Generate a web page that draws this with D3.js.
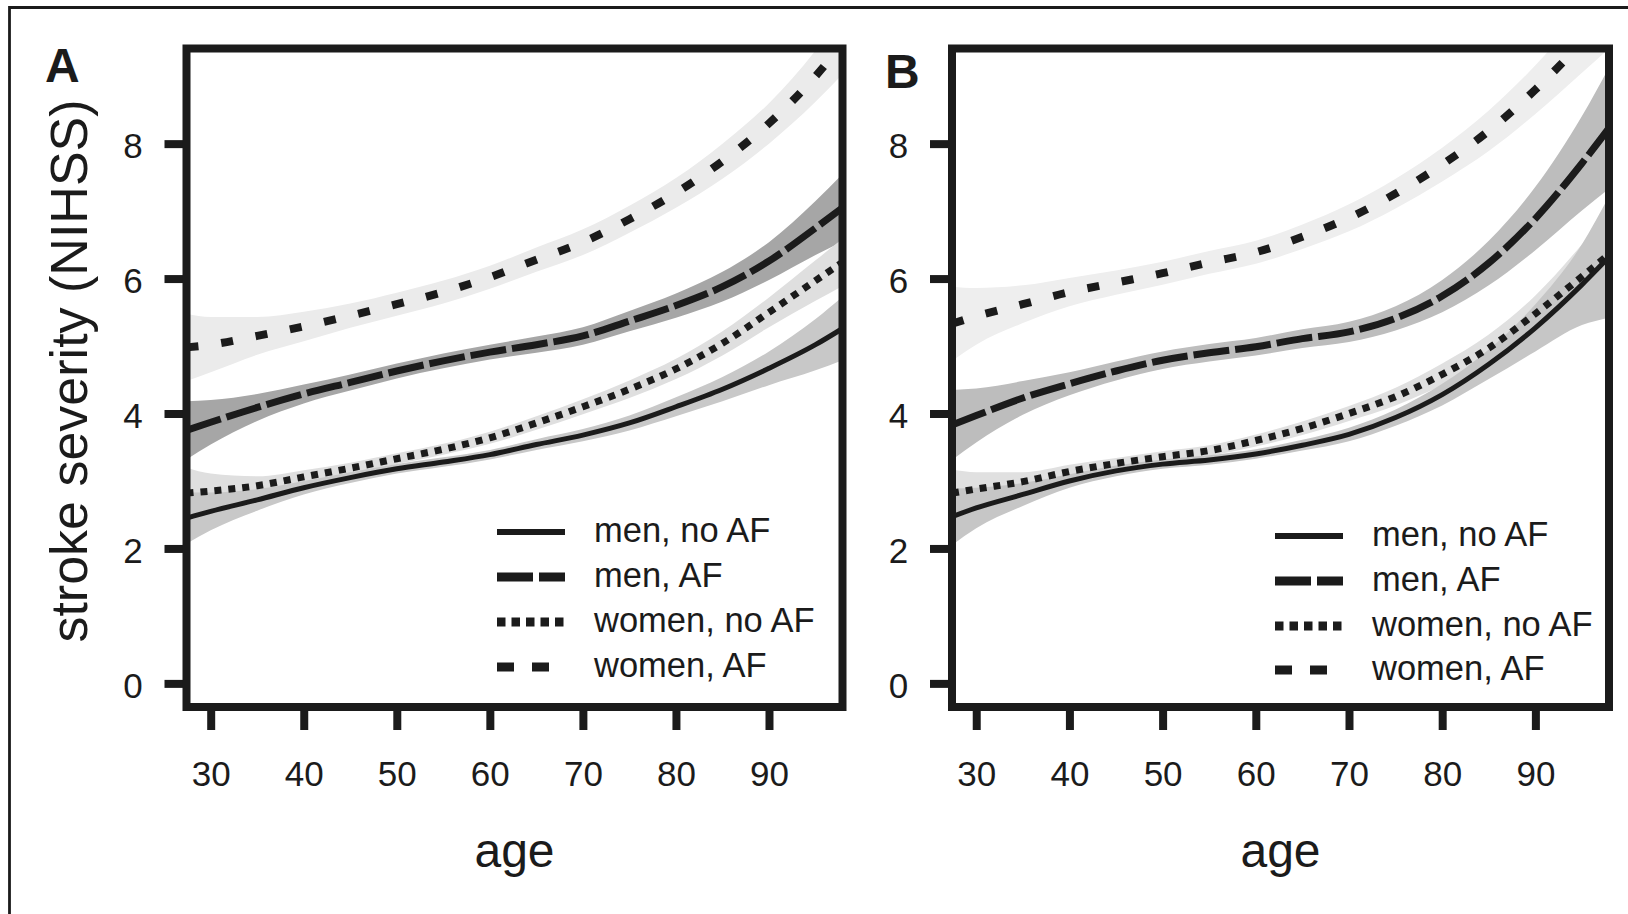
<!DOCTYPE html>
<html>
<head>
<meta charset="utf-8">
<script src="https://cdn.jsdelivr.net/npm/d3@7"></script>
<style>
html,body{margin:0;padding:0;background:#fff;}
svg{display:block;font-family:"Liberation Sans", Arial, Helvetica, sans-serif;}
</style>
</head>
<body>
<svg id="chart" width="1628" height="914"></svg>
<script>
// ---------------- data ----------------
const ages = [27.4, 30, 35, 40, 45, 50, 55, 60, 65, 70, 75, 80, 85, 90, 95, 97.9];
const seriesNames = ["men, no AF", "men, AF", "women, no AF", "women, AF"];
const xTicks = [30, 40, 50, 60, 70, 80, 90];
const yTicks = [0, 2, 4, 6, 8];
const panelLetters = ["A", "B"];

// Panel A: fitted stroke severity
const aMenNoAF   = [2.45, 2.55, 2.72, 2.90, 3.05, 3.18, 3.28, 3.39, 3.54, 3.68, 3.86, 4.10, 4.36, 4.67, 5.02, 5.26];
const aMenAF     = [3.75, 3.87, 4.09, 4.29, 4.46, 4.63, 4.78, 4.91, 5.02, 5.15, 5.37, 5.60, 5.88, 6.26, 6.75, 7.05];
const aWomenNoAF = [2.82, 2.85, 2.93, 3.06, 3.19, 3.33, 3.47, 3.64, 3.86, 4.10, 4.36, 4.66, 5.04, 5.50, 5.97, 6.24];
const aWomenAF   = [4.98, 5.02, 5.15, 5.29, 5.45, 5.62, 5.80, 6.02, 6.28, 6.54, 6.88, 7.27, 7.74, 8.30, 9.00, 9.48];
// Panel A: confidence band half-widths
const aMenNoAFci   = [0.38, 0.28, 0.16, 0.10, 0.08, 0.07, 0.07, 0.07, 0.08, 0.09, 0.11, 0.14, 0.18, 0.25, 0.38, 0.47];
const aMenAFci     = [0.43, 0.33, 0.20, 0.14, 0.12, 0.11, 0.11, 0.11, 0.12, 0.13, 0.15, 0.18, 0.22, 0.28, 0.40, 0.50];
const aWomenNoAFci = [0.38, 0.26, 0.14, 0.10, 0.08, 0.08, 0.08, 0.09, 0.10, 0.11, 0.13, 0.15, 0.18, 0.22, 0.30, 0.35];
const aWomenAFci   = [0.50, 0.41, 0.28, 0.22, 0.18, 0.17, 0.17, 0.17, 0.18, 0.19, 0.20, 0.22, 0.26, 0.30, 0.38, 0.45];

// Panel B: fitted stroke severity
const bMenNoAF   = [2.47, 2.60, 2.80, 3.00, 3.15, 3.25, 3.31, 3.40, 3.53, 3.69, 3.94, 4.28, 4.73, 5.27, 5.91, 6.32];
const bMenAF     = [3.83, 3.97, 4.23, 4.44, 4.63, 4.79, 4.90, 4.99, 5.11, 5.21, 5.41, 5.74, 6.23, 6.89, 7.71, 8.23];
const bWomenNoAF = [2.82, 2.88, 2.99, 3.14, 3.26, 3.36, 3.45, 3.60, 3.78, 4.00, 4.25, 4.58, 4.97, 5.48, 6.03, 6.36];
const bWomenAF   = [5.33, 5.44, 5.62, 5.80, 5.94, 6.08, 6.24, 6.39, 6.62, 6.90, 7.26, 7.69, 8.19, 8.80, 9.50, 9.93];
// Panel B: confidence band half-widths
const bMenNoAFci   = [0.42, 0.30, 0.17, 0.10, 0.08, 0.07, 0.07, 0.07, 0.08, 0.10, 0.12, 0.16, 0.22, 0.35, 0.60, 0.90];
const bMenAFci     = [0.52, 0.40, 0.25, 0.17, 0.14, 0.13, 0.13, 0.13, 0.14, 0.15, 0.18, 0.24, 0.33, 0.47, 0.70, 0.90];
const bWomenNoAFci = [0.35, 0.25, 0.14, 0.10, 0.08, 0.08, 0.08, 0.09, 0.10, 0.11, 0.13, 0.16, 0.20, 0.27, 0.48, 0.65];
const bWomenAFci   = [0.55, 0.42, 0.28, 0.21, 0.18, 0.17, 0.17, 0.17, 0.18, 0.20, 0.22, 0.25, 0.30, 0.36, 0.45, 0.52];

// ---------------- styling / layout ----------------
const ink = "#1b1b1b";
const lineStyles = [
  {dash: null,     width: 5, legDash: null,      legWidth: 6},
  {dash: "36 6",   width: 7, legDash: "36 6",    legWidth: 9},
  {dash: "7 7",    width: 7, legDash: "8.5 6",   legWidth: 9},
  {dash: "12 23",  width: 8, legDash: "17 18",   legWidth: 9}
];
const panels = [
  {
    letter: panelLetters[0], left: 186.5, right: 842.5, letterX: 45, letterY: 81.5,
    fits: [aMenNoAF, aMenAF, aWomenNoAF, aWomenAF],
    cis:  [aMenNoAFci, aMenAFci, aWomenNoAFci, aWomenAFci],
    bandFill: ["#c8c8c8", "#a6a6a6", "#dfdfdf", "#ebebeb"],
    legLineX: 497, legTextX: 594, legRows: [532, 577, 622, 667]
  },
  {
    letter: panelLetters[1], left: 952, right: 1609, letterX: 885, letterY: 87.5,
    fits: [bMenNoAF, bMenAF, bWomenNoAF, bWomenAF],
    cis:  [bMenNoAFci, bMenAFci, bWomenNoAFci, bWomenAFci],
    bandFill: ["#c6c6c6", "#bdbdbd", "#e0e0e0", "#eeeeee"],
    legLineX: 1275, legTextX: 1372, legRows: [536, 581, 626, 670]
  }
];
const boxTop = 48.5, boxBottom = 707;
const bandOrder = [3, 1, 2, 0];

const svg = d3.select("#chart");
svg.append("rect").attr("width", 1628).attr("height", 914).attr("fill", "#fff");

// outer frame (top and left only)
svg.append("path")
  .attr("d", "M9.5,914 V7.5 H1628")
  .attr("fill", "none").attr("stroke", ink).attr("stroke-width", 2.8);

const y = d3.scaleLinear().domain([-0.35, 9.41]).range([boxBottom, boxTop]);

panels.forEach((p, pi) => {
  const x = d3.scaleLinear().domain([27.4, 97.9]).range([p.left, p.right]);
  const g = svg.append("g");

  const clipId = "clip" + pi;
  svg.append("clipPath").attr("id", clipId)
    .append("rect")
    .attr("x", p.left).attr("y", boxTop)
    .attr("width", p.right - p.left).attr("height", boxBottom - boxTop);

  const plot = g.append("g").attr("clip-path", `url(#${clipId})`);

  // confidence bands
  bandOrder.forEach(si => {
    const fit = p.fits[si], ci = p.cis[si];
    const rows = ages.map((a, k) => ({a, lo: fit[k] - ci[k], hi: fit[k] + ci[k]}));
    const area = d3.area()
      .x(d => x(d.a)).y0(d => y(d.lo)).y1(d => y(d.hi))
      .curve(d3.curveMonotoneX);
    plot.append("path").datum(rows)
      .attr("d", area).attr("fill", p.bandFill[si]).attr("stroke", "none");
  });

  // fitted lines
  bandOrder.forEach(si => {
    const fit = p.fits[si];
    const rows = ages.map((a, k) => ({a, v: fit[k]}));
    const line = d3.line().x(d => x(d.a)).y(d => y(d.v)).curve(d3.curveMonotoneX);
    const st = lineStyles[si];
    plot.append("path").datum(rows)
      .attr("d", line).attr("fill", "none").attr("stroke", ink)
      .attr("stroke-width", st.width)
      .attr("stroke-dasharray", st.dash)
      .attr("stroke-linecap", "butt");
  });

  // y axis
  const ya = g.append("g").attr("transform", `translate(${p.left},0)`)
    .call(d3.axisLeft(y).tickValues(yTicks).tickSize(22).tickFormat(d3.format("d")));
  ya.select(".domain").remove();
  ya.selectAll(".tick line").attr("stroke", ink).attr("stroke-width", 8);
  ya.selectAll(".tick text")
    .attr("x", -53.5).attr("dy", "0.41em")
    .attr("text-anchor", "middle")
    .attr("fill", ink).style("font-size", "35px")
    .style("font-family", '"Liberation Sans", Arial, sans-serif');

  // x axis
  const xa = g.append("g").attr("transform", `translate(0,${boxBottom})`)
    .call(d3.axisBottom(x).tickValues(xTicks).tickSize(23).tickFormat(d3.format("d")));
  xa.select(".domain").remove();
  xa.selectAll(".tick line").attr("stroke", ink).attr("stroke-width", 8);
  xa.selectAll(".tick text")
    .attr("y", 79).attr("dy", null)
    .attr("fill", ink).style("font-size", "35px")
    .style("font-family", '"Liberation Sans", Arial, sans-serif');

  // box
  g.append("rect")
    .attr("x", p.left).attr("y", boxTop)
    .attr("width", p.right - p.left).attr("height", boxBottom - boxTop)
    .attr("fill", "none").attr("stroke", ink).attr("stroke-width", 8);

  // x label
  g.append("text")
    .attr("x", (p.left + p.right) / 2).attr("y", 867)
    .attr("text-anchor", "middle").attr("fill", ink)
    .style("font-size", "48px").text("age");

  // panel letter
  g.append("text")
    .attr("x", p.letterX).attr("y", p.letterY)
    .attr("fill", ink).style("font-size", "48px").style("font-weight", "bold")
    .text(p.letter);

  // legend
  seriesNames.forEach((name, si) => {
    const st = lineStyles[si];
    const ry = p.legRows[si];
    g.append("line")
      .attr("x1", p.legLineX).attr("x2", p.legLineX + 68)
      .attr("y1", ry).attr("y2", ry)
      .attr("stroke", ink).attr("stroke-width", st.legWidth)
      .attr("stroke-dasharray", st.legDash).attr("stroke-linecap", "butt");
    g.append("text")
      .attr("x", p.legTextX).attr("y", ry + 10)
      .attr("fill", ink).style("font-size", "34.5px")
      .text(name);
  });
});

// y axis label (left panel only)
svg.append("text")
  .attr("transform", "translate(87,371) rotate(-90)")
  .attr("text-anchor", "middle").attr("fill", ink)
  .style("font-size", "52px")
  .text("stroke severity (NIHSS)");
</script>
</body>
</html>
